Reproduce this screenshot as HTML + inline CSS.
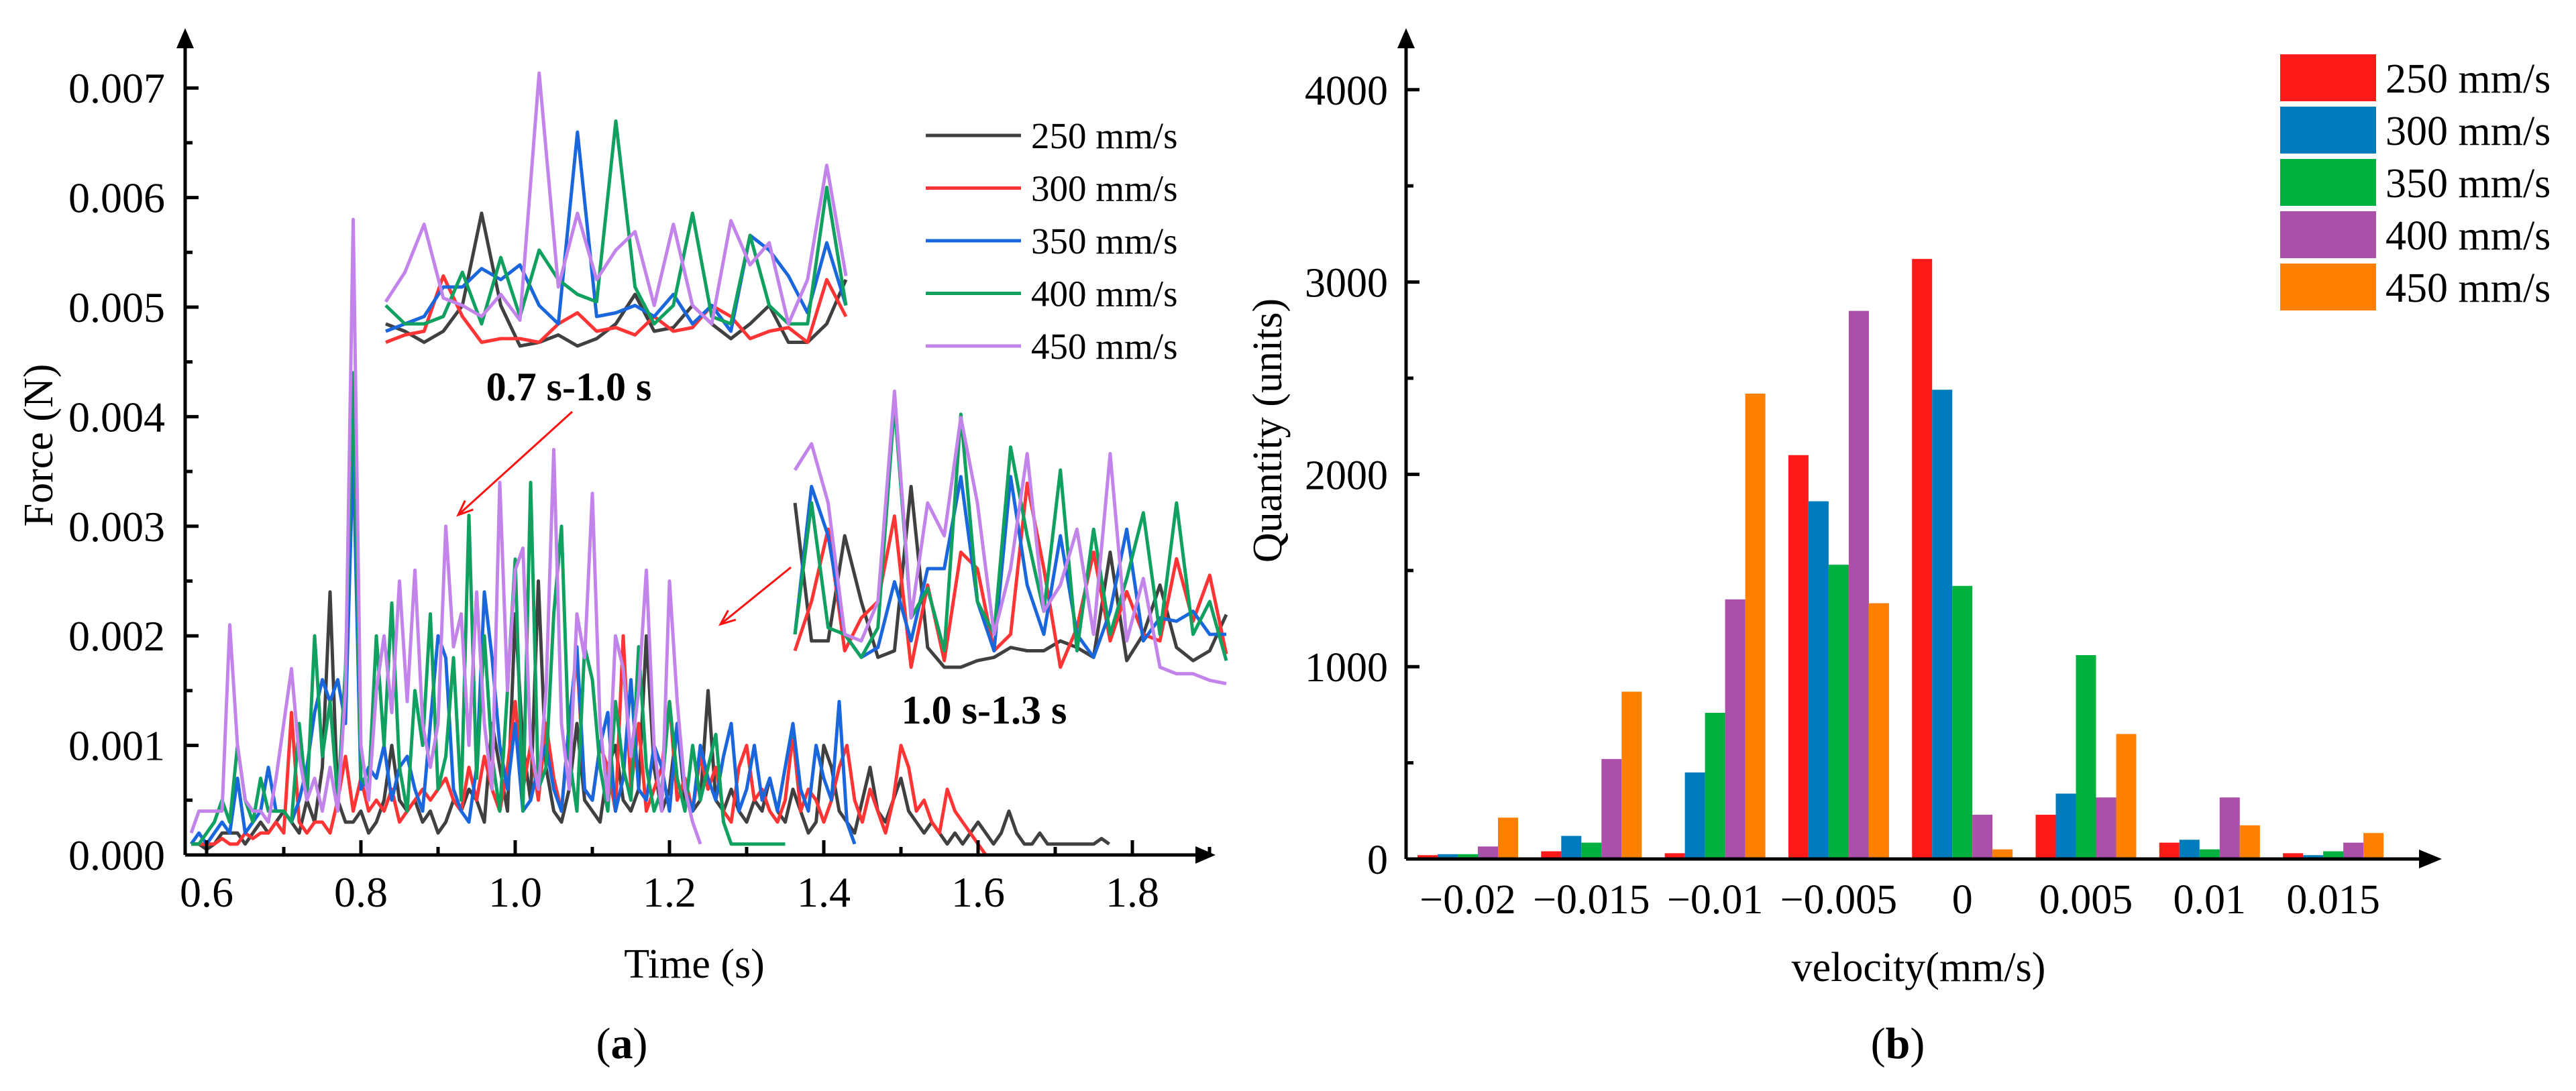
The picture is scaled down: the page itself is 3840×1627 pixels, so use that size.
<!DOCTYPE html>
<html><head><meta charset="utf-8"><style>
html,body{margin:0;padding:0;background:#fff}
svg{display:block}
text{font-family:"Liberation Serif",serif;fill:#000}
</style></head><body>
<svg id="fig" width="3840" height="1627" viewBox="0 0 3840 1627" xmlns="http://www.w3.org/2000/svg">
<g id="left"></g>
<g id="right"></g>
</svg>
<script>
// ---------- Chart (a) data: force in 1e-4 N, sampled every 0.01 s ----------
const seriesNames = ["250 mm/s","300 mm/s","350 mm/s","400 mm/s","450 mm/s"];
const seriesStart = [0.58,0.58,0.58,0.58,0.58];
const f250 = [1,1,0.5,1,2,2,2,1,2,3,2,3,4,3,2,5,3,8,24,5,3,3,4,2,3,5,10,5,4,5,3,4,2,3,5,4,6,5,3,12,8,4,22,10,5,25,8,4,3,6,12,5,4,3,8,10,5,4,6,20,8,4,6,12,5,4,5,15,5,4,6,4,3,5,4,7,4,3,6,4,2,3,10,8,4,3,2,5,8,4,3,5,7,4,3,2,3,2,1,2,1,2,3,2,1,2,4,2,1,1,2,1,1,1,1,1,1,1,1.5,1];
const f300 = [1,1,1,1,1.5,1,1,2,1.5,2,2,3,2,13,3,2,3,3,2,5,9,4,7,4,5,4,6,3,4,5,6,5,6,7,5,4,8,5,9,6,4,8,14,6,10,5,12,7,4,12,18,6,5,10,8,4,20,6,12,4,6,8,14,5,7,4,9,6,8,4,3,8,10,5,6,4,3,5,11,4,6,5,3,5,8,10,5,3,6,4,2,5,10,8,4,5,3,2,6,4,3,2,1,0];
const f350 = [1,2,1,2,3,2,7,2,3,4,8,4,4,3,5,8,13,16,14,16,12,37,6,8,7,10,5,8,9,6,4,12,20,18,6,4,3,8,24,18,10,6,12,4,5,8,10,6,4,12,19,6,5,10,13,4,7,16,6,5,10,8,4,12,6,4,10,7,5,9,12,4,6,10,5,7,4,8,12,6,4,10,7,5,14,3,1];
const f400 = [1,1,2,3,5,3,10,5,3,7,4,4,4,3,12,5,20,9,14,5,17,44,7,6,20,10,23,8,4,15,10,22,6,9,18,5,31,7,20,9,4,15,27,4,34,6,8,22,30,9,4,19,16,8,4,14,8,5,19,8,4,6,14,7,4,10,5,8,11,3,1,1,1,1,1,1,1,1];
const f450 = [2,4,4,4,4,21,10,5,4,4,3,7,12,17,9,5,7,4,8,4,15,58,10,5,15,20,13,25,14,26,12,8,12,30,19,22,10,24,12,6,34,15,26,28,10,6,15,37,12,6,22,18,33,12,5,20,17,9,15,26,10,4,25,14,6,3,1];
const forceSeries = [f250,f300,f350,f400,f450];
const xTicks = [0.6,0.8,1.0,1.2,1.4,1.6,1.8];
const yTicks = [0,0.001,0.002,0.003,0.004,0.005,0.006,0.007];
// inset series (relative scale 0-10)
const in1_250 = [1,0.8,0.5,0.8,1.5,4,1.5,0.4,0.5,0.7,0.4,0.6,1,1.8,0.8,0.9,1.5,1,0.6,1,1.5,0.5,0.5,1,2.2];
const in1_300 = [0.5,0.7,0.8,2.3,1.2,0.5,0.6,0.6,0.5,1,1.3,0.8,0.9,0.7,1.2,0.8,0.9,1.5,1.2,0.6,0.8,0.9,0.5,2.2,1.2];
const in1_350 = [0.8,1,1.2,2,2,2.5,2.2,2.6,1.5,1,6.2,1.2,1.3,1.5,1.2,1.8,1,1.5,0.8,3.4,3,2.3,1.3,3.2,1.5];
const in1_400 = [1.5,1,1,1.2,2.4,1,2.8,1.2,3,2.2,1.8,1.6,6.5,2,1,1.5,4,1.2,1,3.4,1.5,1,1,4.7,1.5];
const in1_450 = [1.6,2.4,3.7,1.7,1.5,1.2,1.8,1.1,7.8,2,4,2.2,3,3.5,1.5,3.7,1.5,1,3.8,2.6,3.2,1,2.2,5.3,2.3];
const insetOne = [in1_250,in1_300,in1_350,in1_400,in1_450];
const in2_250 = [6,1.8,1.8,5,3,1.3,1.5,6.5,1.6,1,1,1.2,1.3,1.6,1.5,1.5,1.8,1.6,1.3,4.5,1.2,2,3.5,1.6,1.2,1.5,2.6];
const in2_300 = [1.5,3,5.2,1.5,2.5,3,5.6,1,3.5,1.2,4.5,4,1.5,2,6.6,4,1,2.2,4.5,1.8,3.3,2,1.8,4.3,2.4,3.8,1.4];
const in2_350 = [2,6.5,5,2,1.3,1.6,3.6,1.8,4,4,6.8,3,1.5,6.8,3.5,2,5,2,1.3,2.7,5.2,1.8,2.5,2.4,2.7,2,2];
const in2_400 = [2,6,2.2,2,1.3,2.2,9,2.5,3.4,1.5,8.7,3,2,7.7,5,2.7,7,1.5,5.2,2,3.7,5.7,2,6,2,3,1.2];
const in2_450 = [7,7.8,6,2,1.8,3,9.4,2.5,6,5,8.6,6,2,4,7.5,2.7,3.5,5.2,2,7.5,1.8,3.7,1,0.8,0.8,0.6,0.5];
const insetTwo = [in2_250,in2_300,in2_350,in2_400,in2_450];

// ---------- Chart (b) data ----------
const binLabels = ["\u22120.02","\u22120.015","\u22120.01","\u22120.005","0","0.005","0.01","0.015"];
const q250 = [20,40,30,2100,3120,230,85,30];
const q300 = [25,120,450,1860,2440,340,100,20];
const q350 = [25,85,760,1530,1420,1060,50,40];
const q400 = [65,520,1350,2850,230,320,320,85];
const q450 = [215,870,2420,1330,50,650,175,135];
const barSeries = [q250,q300,q350,q400,q450];
const qTicks = [0,1000,2000,3000,4000];

const NS="http://www.w3.org/2000/svg";
function mk(parent,tag,attrs,text){const e=document.createElementNS(NS,tag);for(const k in attrs)e.setAttribute(k,attrs[k]);if(text!==undefined)e.textContent=text;parent.appendChild(e);return e;}

const lineColors=["#404040","#ff3535","#1a66dd","#10a060","#c283ea"];
const barColors=["#ff1a1a","#007bbb","#00b140","#ab50a8","#ff8000"];

// ===== Left chart =====
const L=document.getElementById('left');
const ax0=276, by0=1275;
const sx=t=>308+(t-0.6)*1150;
const sy=v=>by0-v*163400;
forceSeries.forEach((s,i)=>{
  const pts=s.map((v,j)=>sx(seriesStart[i]+j*0.01).toFixed(1)+","+sy(v*1e-4).toFixed(1)).join(" ");
  const p=mk(L,'polyline',{points:pts,fill:'none',stroke:lineColors[i],'stroke-width':5,'stroke-linejoin':'round'});
  
  
});
function inset(data,x0,x1,yb,scale,name){
  const g=mk(L,'g',{});
  
  
  data.forEach((s,i)=>{
    const pts=s.map((v,j)=>(x0+j*(x1-x0)/(s.length-1)).toFixed(1)+","+(yb-v*scale).toFixed(1)).join(" ");
    const p=mk(g,'polyline',{points:pts,fill:'none',stroke:lineColors[i],'stroke-width':5,'stroke-linejoin':'round'});
    
    
  });
}
inset(insetOne,575,1261,538,55,'inset-0.7-1.0');
inset(insetTwo,1185,1828,1044,49,'inset-1.0-1.3');
const axL=mk(L,'path',{d:`M${ax0} ${by0}H1790M${ax0} ${by0}V62`,stroke:'#000','stroke-width':5,fill:'none'});


mk(L,'path',{d:`M${ax0-13} 72L${ax0} 42L${ax0+13} 72Z`,fill:'#000'});
mk(L,'path',{d:`M1782 ${by0-13}L1812 ${by0}L1782 ${by0+13}Z`,fill:'#000'});
for(let t=0.6;t<=1.91;t+=0.1){const x=sx(t);const major=Math.round(t*10)%2===0;mk(L,'line',{x1:x,y1:by0,x2:x,y2:by0-(major?22:12),stroke:'#000','stroke-width':5});}
for(let v=0;v<=0.0075;v+=0.0005){const y=sy(v);const major=Math.round(v*10000)%10===0;mk(L,'line',{x1:ax0,y1:y,x2:ax0+(major?20:11),y2:y,stroke:'#000','stroke-width':5});}
xTicks.forEach(t=>{const e=mk(L,'text',{x:sx(t),y:1352,'font-size':64,'text-anchor':'middle'},t.toFixed(1));
  });
yTicks.forEach(v=>{const e=mk(L,'text',{x:246,y:sy(v)+22,'font-size':64,'text-anchor':'end'},v.toFixed(3));
  });
const xt=mk(L,'text',{x:1035,y:1458,'font-size':62,'text-anchor':'middle'},'Time (s)');

const yt=mk(L,'text',{x:0,y:0,'font-size':62,'text-anchor':'middle',transform:'translate(78,664) rotate(-90)'},'Force (N)');

seriesNames.forEach((n,i)=>{const y=202+i*78.5;
  const ln=mk(L,'line',{x1:1380,y1:y,x2:1522,y2:y,stroke:lineColors[i],'stroke-width':5});
  
  const tx=mk(L,'text',{x:1537,y:y+19,'font-size':55},n);
  });
const a1=mk(L,'text',{x:848,y:597,'font-size':60,'font-weight':'bold','text-anchor':'middle'},'0.7 s-1.0 s');

const a2=mk(L,'text',{x:1467,y:1079,'font-size':60,'font-weight':'bold','text-anchor':'middle'},'1.0 s-1.3 s');

function arrow(x1,y1,x2,y2,name){const g=mk(L,'g',{});
  mk(g,'line',{x1,y1,x2,y2,stroke:'#ff1010','stroke-width':3});
  const a=Math.atan2(y2-y1,x2-x1),h=22,w=9;
  const p1=[x2-h*Math.cos(a)+w*Math.sin(a),y2-h*Math.sin(a)-w*Math.cos(a)],p2=[x2-h*Math.cos(a)-w*Math.sin(a),y2-h*Math.sin(a)+w*Math.cos(a)];
  mk(g,'path',{d:`M${p1[0]} ${p1[1]}L${x2} ${y2}L${p2[0]} ${p2[1]}`,stroke:'#ff1010','stroke-width':3,fill:'none'});}
arrow(853,614,683,768,'inset-arrow-1');
arrow(1179,846,1074,931,'inset-arrow-2');
const pa=mk(L,'text',{x:927,y:1578,'font-size':66,'text-anchor':'middle'},'');

mk(pa,'tspan',{},'(');mk(pa,'tspan',{'font-weight':'bold'},'a');mk(pa,'tspan',{},')');

// ===== Right chart =====
const R=document.getElementById('right');
const ax1=2096, by1=1281;
const qy=v=>by1-v*0.2868;
const gx=i=>2188+i*184.3;
const bw=30;
barSeries.forEach((s,si)=>{s.forEach((v,bi)=>{
  const x=gx(bi)-75+si*bw;
  const r=mk(R,'rect',{x:x,y:qy(v),width:bw,height:by1-qy(v),fill:barColors[si]});
  
  
});});
const axR=mk(R,'path',{d:`M${ax1} ${by1}H3618M${ax1} ${by1}V62`,stroke:'#000','stroke-width':5,fill:'none'});

mk(R,'path',{d:`M${ax1-13} 72L${ax1} 42L${ax1+13} 72Z`,fill:'#000'});
mk(R,'path',{d:`M3606 ${by1-14}L3640 ${by1}L3606 ${by1+14}Z`,fill:'#000'});
for(let v=0;v<=4000;v+=500){const y=qy(v);const major=v%1000===0;mk(R,'line',{x1:ax1,y1:y,x2:ax1+(major?20:11),y2:y,stroke:'#000','stroke-width':5});}
qTicks.forEach(v=>{const e=mk(R,'text',{x:2069,y:qy(v)+22,'font-size':62,'text-anchor':'end'},String(v));
  });
binLabels.forEach((l,i)=>{const e=mk(R,'text',{x:gx(i),y:1362,'font-size':62,'text-anchor':'middle'},l);
  });
const xt2=mk(R,'text',{x:2860,y:1463,'font-size':62,'text-anchor':'middle'},'velocity(mm/s)');

const yt2=mk(R,'text',{x:0,y:0,'font-size':62,'text-anchor':'middle',transform:'translate(1910,642) rotate(-90)'},'Quantity (units)');

seriesNames.forEach((n,i)=>{const y=81+i*78;
  const r=mk(R,'rect',{x:3399,y:y,width:143,height:70,fill:barColors[i]});
  
  const t=mk(R,'text',{x:3556,y:y+57,'font-size':62},n);
  });
const pb=mk(R,'text',{x:2829,y:1578,'font-size':66,'text-anchor':'middle'},'');

mk(pb,'tspan',{},'(');mk(pb,'tspan',{'font-weight':'bold'},'b');mk(pb,'tspan',{},')');
</script>
</body></html>
